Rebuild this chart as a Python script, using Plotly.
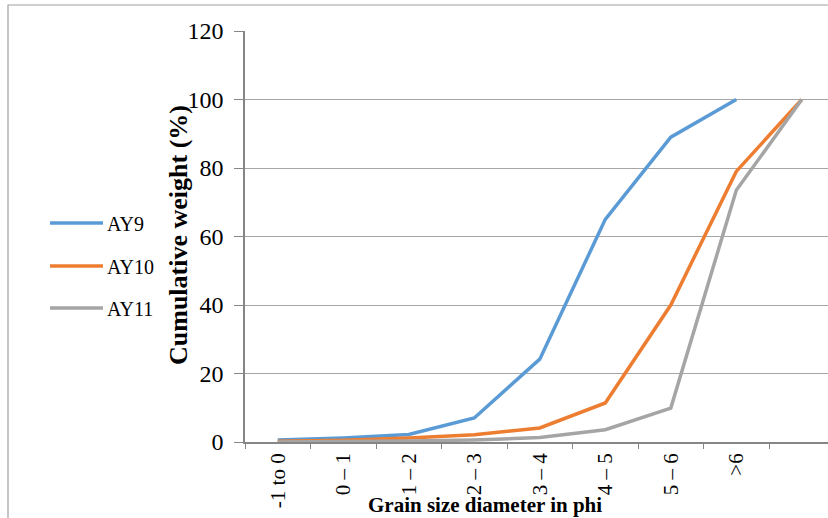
import plotly.graph_objects as go

categories = ["-1 to 0", "0 – 1", "1 – 2", "2 – 3", "3 – 4", "4 – 5", "5 – 6", ">6", " "]
ay9 = [0.6, 1.2, 2.2, 7.0, 24.2, 65.0, 89.0, 100.0]
ay10 = [0.2, 0.5, 1.2, 2.1, 4.1, 11.4, 40.0, 79.0, 100.0]
ay11 = [0.0, 0.1, 0.3, 0.6, 1.3, 3.6, 9.9, 73.5, 100.0]
y_ticks = [0, 20, 40, 60, 80, 100, 120]

series = [("AY9", ay9, "#5B9BD5"), ("AY10", ay10, "#ED7D31"), ("AY11", ay11, "#A5A5A5")]
FONT = "Liberation Serif, Times New Roman, serif"

W, H = 828, 518
L, R, T, B = 245, 0, 31, 76
PW, PH = W - L - R, H - T - B


def px(x):
    return (x - L) / PW


def py(y):
    return (H - B - y) / PH


fig = go.Figure()
shapes = [dict(
    type="rect", xref="paper", yref="paper",
    x0=px(8), x1=px(840), y0=py(530), y1=py(5),
    line=dict(color="#A0A0A0", width=1.2), fillcolor="rgba(0,0,0,0)", layer="below",
)]
annotations = [
    dict(text="<b>Grain size diameter in phi</b>", xref="paper", yref="paper",
         x=px(485), y=py(505), xanchor="center", yanchor="middle",
         showarrow=False, font=dict(family=FONT, size=21, color="black")),
    dict(text="<b>Cumulative weight (%)</b>", xref="paper", yref="paper",
         x=px(179), y=py(235), xanchor="center", yanchor="middle", textangle=-90,
         showarrow=False, font=dict(family=FONT, size=26, color="black")),
]
leg_y = [223, 266, 308]
for i, (name, vals, col) in enumerate(series):
    fig.add_trace(go.Scatter(
        x=categories[:len(vals)], y=vals, mode="lines", name=name,
        line=dict(color=col, width=3.5), showlegend=False,
    ))
    shapes.append(dict(type="line", xref="paper", yref="paper",
                       x0=px(50), x1=px(103), y0=py(leg_y[i]), y1=py(leg_y[i]),
                       line=dict(color=col, width=3.5)))
    annotations.append(dict(text=name, xref="paper", yref="paper",
                            x=px(105), y=py(leg_y[i] + 1), xanchor="left", yanchor="middle",
                            showarrow=False, font=dict(family=FONT, size=20, color="black")))

fig.update_layout(
    width=W, height=H,
    margin=dict(l=L, r=R, t=T, b=B),
    paper_bgcolor="white", plot_bgcolor="white",
    font=dict(family=FONT, color="black"),
    showlegend=False,
    xaxis=dict(
        type="category", categoryorder="array", categoryarray=categories,
        range=[-0.5, 8.4], showgrid=False, zeroline=False,
        showline=True, linecolor="#868686", linewidth=1.8,
        ticks="outside", ticklen=5, tickcolor="#868686", tickwidth=1.2,
        tickson="boundaries", tickangle=-90,
        tickfont=dict(family=FONT, size=21, color="black"),
        ticklabelstandoff=1,
    ),
    yaxis=dict(
        range=[0, 120], tickvals=y_ticks, showgrid=True, gridcolor="#A6A6A6", gridwidth=1.2,
        zeroline=False, showline=True, linecolor="#868686", linewidth=1.5,
        ticks="outside", ticklen=9, tickcolor="#868686", tickwidth=1.2,
        tickfont=dict(family=FONT, size=24, color="black"),
        ticklabelstandoff=6,
    ),
    annotations=annotations,
    shapes=shapes,
)

fig.write_html("out.html", config={"displayModeBar": False},
               post_script="document.body.style.margin='0';document.body.style.overflow='hidden';")
